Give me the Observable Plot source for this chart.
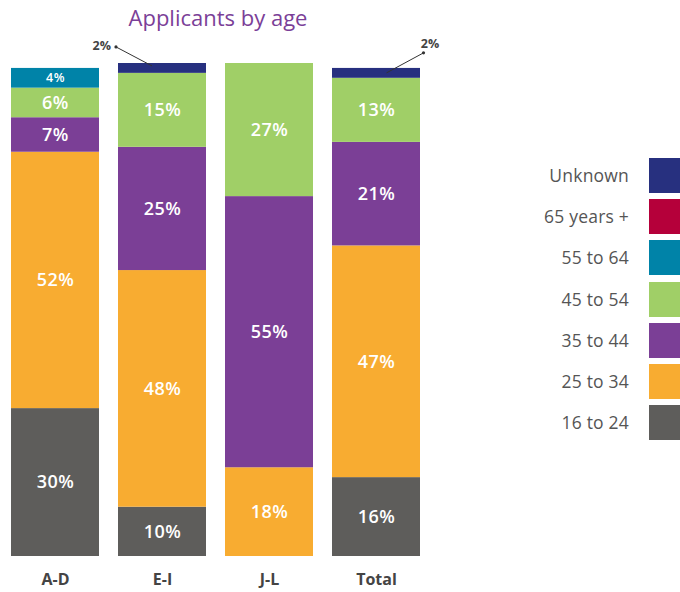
<!DOCTYPE html>
<html><head><meta charset="utf-8">
<script src="https://cdn.jsdelivr.net/npm/d3@7"></script>
<script src="https://cdn.jsdelivr.net/npm/@observablehq/plot@0.6"></script>
<style>
body{margin:0;background:#fff;font-family:"Open Sans",sans-serif;}
#wrap{position:relative;width:680px;height:592px;overflow:hidden;}
#chart{position:absolute;left:0;top:0;}
#title{position:absolute;left:0;width:436px;top:2px;text-align:center;font-size:22px;color:#7b3f98;line-height:30px;}
.leg{position:absolute;left:0;width:680px;height:35px;}
.leg .lab{position:absolute;right:51px;top:0;line-height:35px;font-size:17.5px;color:#555;white-space:nowrap;letter-spacing:0.2px;}
.leg .sw{position:absolute;left:649px;top:0;width:40px;height:35px;}
svg g[aria-label="x-axis tick label"] text{font-weight:700;}
svg g[aria-label="text"] text{letter-spacing:0.5px;}
</style>
</head><body>
<div id="wrap">
  <div id="chart"></div>
  <div id="title">Applicants by age</div>
  <div id="legend"></div>
</div>
<script>
const groups = ["A-D", "E-I", "J-L", "Total"];
const ageBands = ["16 to 24", "25 to 34", "35 to 44", "45 to 54", "55 to 64", "65 years +", "Unknown"];
const colors = ["#5e5d5b", "#f8ac31", "#7b3f96", "#a0cf67", "#0083a8", "#b5003a", "#27307f"];
const pct16to24 = [30, 10, 0, 16];
const pct25to34 = [52, 48, 18, 47];
const pct35to44 = [7, 25, 55, 21];
const pct45to54 = [6, 15, 27, 13];
const pct55to64 = [4, 0, 0, 0];
const pct65plus = [0, 0, 0, 0];
const pctUnknown = [0, 2, 0, 2];
const legendOrder = ["Unknown", "65 years +", "55 to 64", "45 to 54", "35 to 44", "25 to 34", "16 to 24"];

const series = [pct16to24, pct25to34, pct35to44, pct45to54, pct55to64, pct65plus, pctUnknown];
const rows = [];
ageBands.forEach((age, i) => groups.forEach((group, j) => rows.push({age, group, value: series[i][j]})));

// leader annotations for the thin "Unknown" segments (pixel offsets are styling only)
const leaderStyle = {
  "E-I": {start: [-10, -2], end: [-46, -21], text: [-51, -22], anchor: "end"},
  "Total": {start: [10.5, 0], end: [47.5, -20], text: [54, -29], anchor: "middle"}
};

function leaders(index, scales) {
  const {x, y} = scales;
  const bw = typeof x.bandwidth === "function" ? x.bandwidth() : (x.bandwidth || 0);
  const g = d3.create("svg:g");
  groups.forEach((grp, j) => {
    const v = pctUnknown[j];
    const st = leaderStyle[grp];
    if (!v || !st) return;
    const top = series.reduce((s, arr) => s + arr[j], 0);
    const cx = x(grp) + bw / 2;
    const cy = y(top - v / 2);
    g.append("line")
      .attr("x1", cx + st.start[0]).attr("y1", cy + st.start[1])
      .attr("x2", cx + st.end[0]).attr("y2", cy + st.end[1])
      .attr("stroke", "#333").attr("stroke-width", 1);
    g.append("circle").attr("cx", cx + st.end[0]).attr("cy", cy + st.end[1]).attr("r", 1.6).attr("fill", "#333");
    g.append("text").attr("x", cx + st.text[0]).attr("y", cy + st.text[1])
      .attr("text-anchor", st.anchor).attr("dy", "0.35em")
      .attr("font-size", 12.5).attr("font-weight", 700).attr("fill", "#444")
      .text(v + "%");
  });
  return g.node();
}

const chart = Plot.plot({
  width: 680,
  height: 592,
  marginTop: 0, marginBottom: 36, marginLeft: 0, marginRight: 0,
  style: {fontFamily: "Open Sans", background: "transparent", overflow: "visible"},
  x: {domain: groups, range: [10.5, 420.5], paddingInner: 0.18, paddingOuter: 0, label: null},
  y: {domain: [0, 100], range: [556, 63], axis: null},
  color: {domain: ageBands, range: colors},
  marks: [
    Plot.barY(rows, {x: "group", y: "value", fill: "age", z: "age"}),
    Plot.text(rows, Plot.stackY({
      x: "group", y: "value", z: "age",
      text: d => d.value >= 3 ? d.value + "%" : "",
      fontSize: d => d.value < 5 ? 12.5 : 18,
      fontWeight: 600,
      fill: "white"
    })),
    Plot.axisX({tickSize: 0, tickPadding: 17, fontSize: 16, color: "#444", label: null}),
    leaders
  ]
});
document.getElementById("chart").appendChild(chart);

const legend = document.getElementById("legend");
legendOrder.forEach((age, i) => {
  const row = document.createElement("div");
  row.className = "leg";
  row.style.top = (158 + i * 41.2) + "px";
  const lab = document.createElement("span");
  lab.className = "lab";
  lab.textContent = age;
  const sw = document.createElement("span");
  sw.className = "sw";
  sw.style.background = colors[ageBands.indexOf(age)];
  row.appendChild(lab);
  row.appendChild(sw);
  legend.appendChild(row);
});
</script>
</body></html>
